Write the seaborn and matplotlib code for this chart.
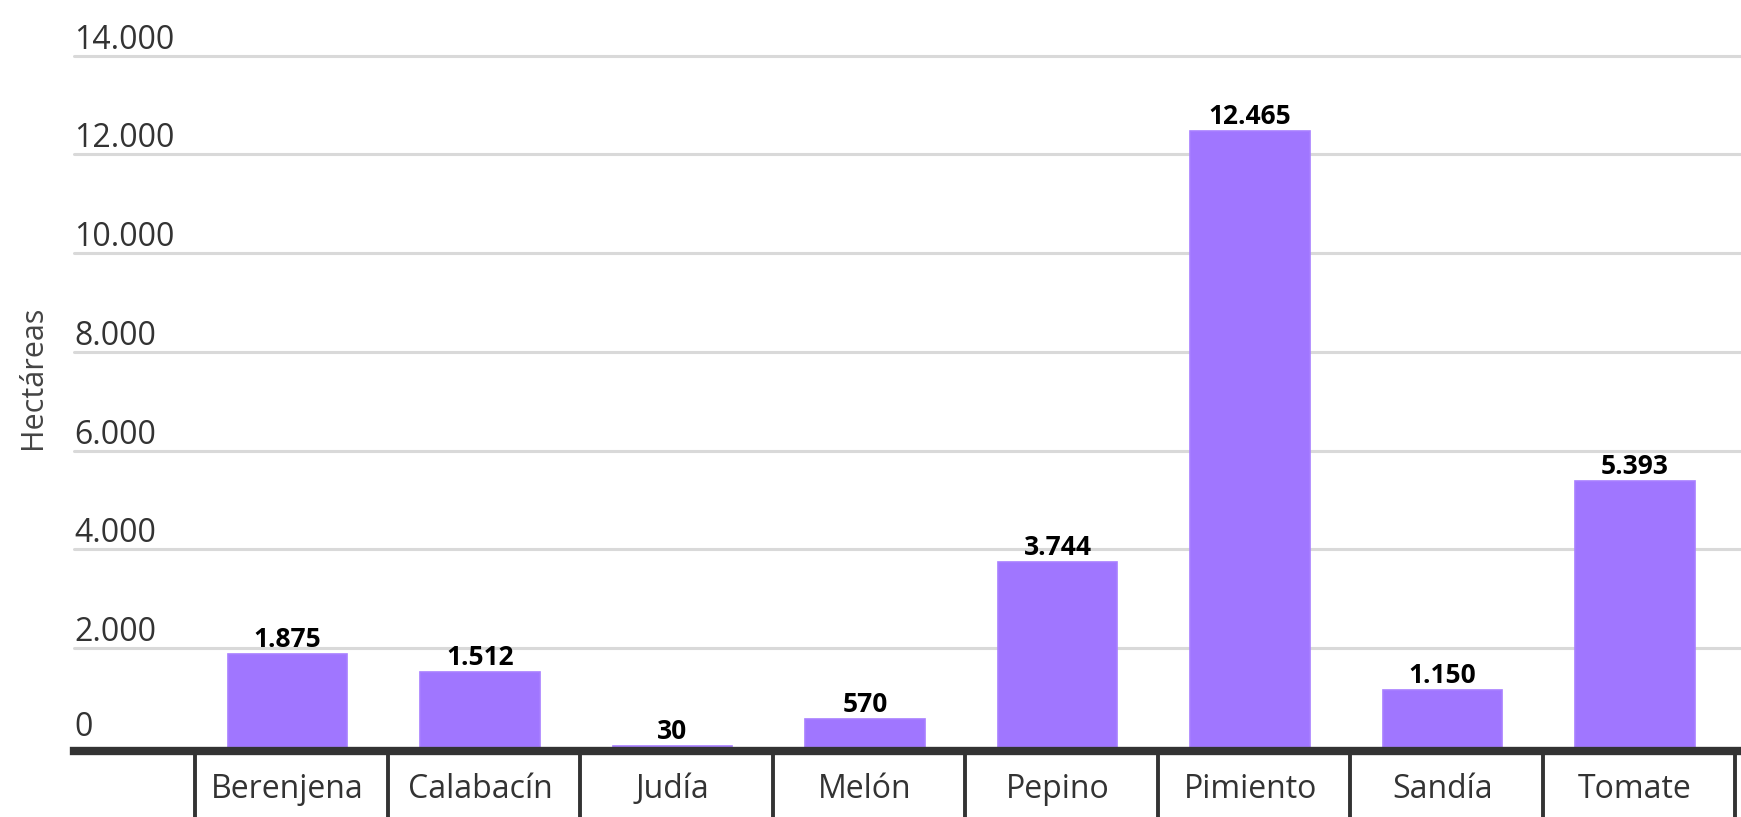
import numpy as np
import pandas as pd
import matplotlib.pyplot as plt
import matplotlib.transforms as mtransforms
import seaborn as sns

# datos (hectáreas por cultivo)
cultivos = ['Berenjena', 'Calabacín', 'Judía', 'Melón', 'Pepino', 'Pimiento', 'Sandía', 'Tomate']
hectareas = [1875, 1512, 30, 570, 3744, 12465, 1150, 5393]
y_ticks = [0, 2000, 4000, 6000, 8000, 10000, 12000, 14000]

def miles(v):
    return f'{v:,.0f}'.replace(',', '.')

sns.set_style('white')
plt.rcParams['font.family'] = ['Open Sans', 'DejaVu Sans']

df = pd.DataFrame({'cultivo': cultivos, 'ha': hectareas})

fig = plt.figure(figsize=(17.41, 8.17), dpi=100)
ax = fig.add_axes([0.0425, 0.0857, 0.9575, 0.8463])

sns.barplot(data=df, x='cultivo', y='ha', color='#A076FF', saturation=1,
            width=0.62, ax=ax, zorder=2, edgecolor='#A87FFF', linewidth=1.2)

ax.set_xlim(-1.109, 7.55)
ax.set_ylim(0, 14000)

# grid + y labels drawn above the lines
ax.set_yticks([])
for t in y_ticks:
    if t > 0:
        ax.axhline(t, color='#d9d9d9', lw=2.2, zorder=1, clip_on=False)
    ax.annotate(miles(t), xy=(0, t), xycoords=ax.get_yaxis_transform(),
                xytext=(0, 5 if t > 0 else 8), textcoords='offset points',
                ha='left', va='baseline',
                fontsize=23, color='#333333', annotation_clip=False)

# value labels
for i, v in enumerate(hectareas):
    ax.annotate(miles(v), xy=(i, v), xytext=(0, 5), textcoords='offset points',
                ha='center', va='baseline', fontsize=19, fontweight='bold', color='black')

# category separators under the axis
trans = mtransforms.blended_transform_factory(ax.transData, ax.transAxes)
for k in range(len(cultivos) + 1):
    ax.plot([k - 0.48, k - 0.48], [-0.005, -0.2], transform=trans, color='#333333',
            lw=2.8, clip_on=False, zorder=3)

for s in ['top', 'right', 'left']:
    ax.spines[s].set_visible(False)
ax.spines['bottom'].set_color('#333333')
ax.spines['bottom'].set_linewidth(6)
ax.spines['bottom'].set_position(('outward', 3))
ax.spines['bottom'].set_zorder(4)

ax.tick_params(axis='x', length=0, pad=16, labelsize=23, labelcolor='#333333')
ax.set_xlabel('')
ax.set_ylabel('')
fig.text(0.019, 0.538, 'Hectáreas', rotation=90, ha='center', va='center',
         fontsize=22, color='#444444')

fig.savefig('out.png', dpi=100)
